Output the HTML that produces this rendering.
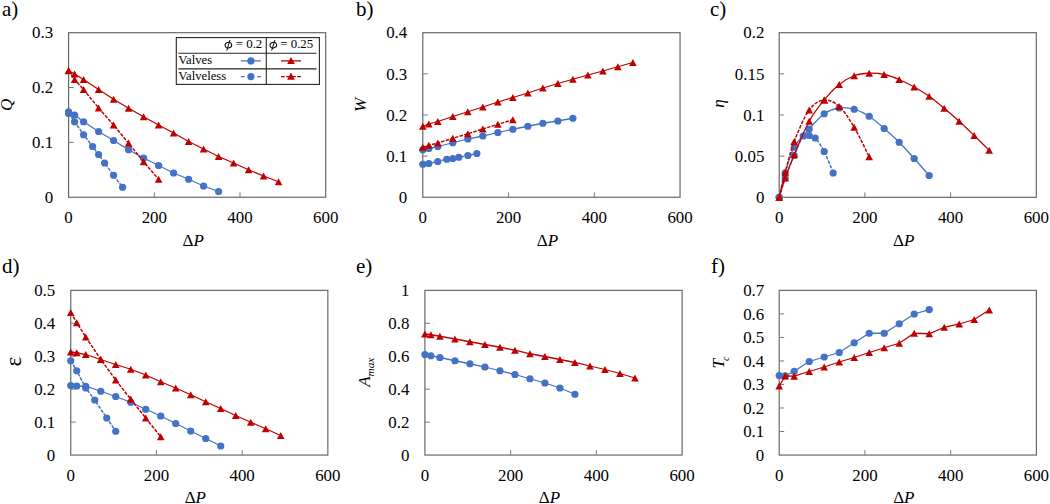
<!DOCTYPE html>
<html lang="en">
<head>
<meta charset="utf-8">
<title>Figure</title>
<style>
html,body{margin:0;padding:0;background:#fff;}
body{width:1050px;height:504px;overflow:hidden;font-family:"Liberation Serif",serif;}
svg{display:block;font-family:"Liberation Serif",serif;}
</style>
</head>
<body>
<svg width="1050" height="504" viewBox="0 0 1050 504">
<rect width="1050" height="504" fill="#ffffff"/>
<g id="panel-a">
<rect x="68.6" y="32.7" width="257.1" height="164.55" fill="#fff" stroke="#626262" stroke-width="1.15"/>
<path d="M154.3 197.25 V192.25 M240 197.25 V192.25 M68.6 142.4 H73.6 M68.6 87.55 H73.6" stroke="#7a7a7a" stroke-width="1" fill="none"/>
<g font-size="16.9" fill="#000000">
<text x="68.6" y="223" text-anchor="middle">0</text>
<text x="154.3" y="223" text-anchor="middle">200</text>
<text x="240" y="223" text-anchor="middle">400</text>
<text x="325.7" y="223" text-anchor="middle">600</text>
<text x="53.1" y="202.95" text-anchor="end">0</text>
<text x="53.1" y="148.1" text-anchor="end">0.1</text>
<text x="53.1" y="93.25" text-anchor="end">0.2</text>
<text x="53.1" y="38.4" text-anchor="end">0.3</text>
</g>
<text x="193.15" y="246" text-anchor="middle" font-size="17" fill="#000000">Δ<tspan font-style="italic">P</tspan></text>
<text transform="translate(12 104.97) rotate(-90)" text-anchor="middle" font-size="17" font-style="italic" fill="#000000">Q</text>
<text x="2" y="16" font-size="21" fill="#000000">a)</text>
<path d="M68.6 111.75 L74.6 115 L83.6 121.75 L98.59 131.5 L113.59 140.5 L128.59 149.75 L143.59 158 L158.59 165.5 L173.58 173 L188.58 179.25 L203.58 186 L218.58 191.5" fill="none" stroke="#4472C4" stroke-width="1.28"/>
<g fill="#4472C4">
<circle cx="68.6" cy="111.75" r="3.62"/>
<circle cx="74.6" cy="115" r="3.62"/>
<circle cx="83.6" cy="121.75" r="3.62"/>
<circle cx="98.59" cy="131.5" r="3.62"/>
<circle cx="113.59" cy="140.5" r="3.62"/>
<circle cx="128.59" cy="149.75" r="3.62"/>
<circle cx="143.59" cy="158" r="3.62"/>
<circle cx="158.59" cy="165.5" r="3.62"/>
<circle cx="173.58" cy="173" r="3.62"/>
<circle cx="188.58" cy="179.25" r="3.62"/>
<circle cx="203.58" cy="186" r="3.62"/>
<circle cx="218.58" cy="191.5" r="3.62"/>
</g>
<path d="M68.6 113.5 L74.6 121.75 L83.6 134.75 L92.6 146.5 L98.59 154.5 L104.59 163 L113.59 175.25 L122.59 187.25" fill="none" stroke="#4472C4" stroke-width="1.5" stroke-dasharray="3.5 1.3"/>
<g fill="#4472C4">
<circle cx="68.6" cy="113.5" r="3.62"/>
<circle cx="74.6" cy="121.75" r="3.62"/>
<circle cx="83.6" cy="134.75" r="3.62"/>
<circle cx="92.6" cy="146.5" r="3.62"/>
<circle cx="98.59" cy="154.5" r="3.62"/>
<circle cx="104.59" cy="163" r="3.62"/>
<circle cx="113.59" cy="175.25" r="3.62"/>
<circle cx="122.59" cy="187.25" r="3.62"/>
</g>
<path d="M68.6 70.5 L74.6 74 L83.6 79.5 L98.59 89.5 L113.59 99.25 L128.59 108.25 L143.59 116.75 L158.59 125 L173.58 133 L188.58 141.5 L203.58 149 L218.58 156.5 L233.57 163 L248.57 169.75 L263.57 176 L278.57 181.75" fill="none" stroke="#C00000" stroke-width="1.28"/>
<g fill="#C00000">
<path d="M68.6 66.92 L72.42 74.08 L64.77 74.08Z"/>
<path d="M74.6 70.42 L78.42 77.58 L70.77 77.58Z"/>
<path d="M83.6 75.92 L87.42 83.08 L79.77 83.08Z"/>
<path d="M98.59 85.92 L102.42 93.08 L94.77 93.08Z"/>
<path d="M113.59 95.67 L117.42 102.83 L109.77 102.83Z"/>
<path d="M128.59 104.67 L132.41 111.83 L124.77 111.83Z"/>
<path d="M143.59 113.17 L147.41 120.33 L139.76 120.33Z"/>
<path d="M158.59 121.42 L162.41 128.57 L154.76 128.57Z"/>
<path d="M173.58 129.43 L177.41 136.57 L169.76 136.57Z"/>
<path d="M188.58 137.93 L192.41 145.07 L184.76 145.07Z"/>
<path d="M203.58 145.43 L207.4 152.57 L199.75 152.57Z"/>
<path d="M218.58 152.93 L222.4 160.07 L214.75 160.07Z"/>
<path d="M233.57 159.43 L237.4 166.57 L229.75 166.57Z"/>
<path d="M248.57 166.18 L252.4 173.32 L244.75 173.32Z"/>
<path d="M263.57 172.43 L267.39 179.57 L259.74 179.57Z"/>
<path d="M278.57 178.18 L282.39 185.32 L274.74 185.32Z"/>
</g>
<path d="M68.6 70.75 L74.6 79.5 L83.6 89.5 L98.59 108 L113.59 125 L128.59 143.2 L143.59 161.75 L158.59 179.25" fill="none" stroke="#C00000" stroke-width="1.5" stroke-dasharray="3.5 1.3"/>
<g fill="#C00000">
<path d="M68.6 67.17 L72.42 74.33 L64.77 74.33Z"/>
<path d="M74.6 75.92 L78.42 83.08 L70.77 83.08Z"/>
<path d="M83.6 85.92 L87.42 93.08 L79.77 93.08Z"/>
<path d="M98.59 104.42 L102.42 111.58 L94.77 111.58Z"/>
<path d="M113.59 121.42 L117.42 128.57 L109.77 128.57Z"/>
<path d="M128.59 139.62 L132.41 146.77 L124.77 146.77Z"/>
<path d="M143.59 158.18 L147.41 165.32 L139.76 165.32Z"/>
<path d="M158.59 175.68 L162.41 182.82 L154.76 182.82Z"/>
</g>
</g>
<g id="panel-b">
<rect x="422.8" y="32.7" width="257.25" height="164.55" fill="#fff" stroke="#626262" stroke-width="1.15"/>
<path d="M508.55 197.25 V192.25 M594.3 197.25 V192.25 M422.8 156.11 H427.8 M422.8 114.97 H427.8 M422.8 73.84 H427.8" stroke="#7a7a7a" stroke-width="1" fill="none"/>
<g font-size="16.9" fill="#000000">
<text x="422.8" y="223" text-anchor="middle">0</text>
<text x="508.55" y="223" text-anchor="middle">200</text>
<text x="594.3" y="223" text-anchor="middle">400</text>
<text x="680.05" y="223" text-anchor="middle">600</text>
<text x="407.3" y="202.95" text-anchor="end">0</text>
<text x="407.3" y="161.81" text-anchor="end">0.1</text>
<text x="407.3" y="120.67" text-anchor="end">0.2</text>
<text x="407.3" y="79.54" text-anchor="end">0.3</text>
<text x="407.3" y="38.4" text-anchor="end">0.4</text>
</g>
<text x="547.42" y="246" text-anchor="middle" font-size="17" fill="#000000">Δ<tspan font-style="italic">P</tspan></text>
<text transform="translate(366.2 104.97) rotate(-90)" text-anchor="middle" font-size="17" font-style="italic" fill="#000000">W</text>
<text x="356" y="16" font-size="21" fill="#000000">b)</text>
<path d="M422.8 149.75 L428.8 148.5 L437.81 146.5 L452.81 142.75 L467.82 139 L482.82 136 L497.83 132.5 L512.84 129.25 L527.84 126.25 L542.85 123.25 L557.86 121 L572.86 118.25" fill="none" stroke="#4472C4" stroke-width="1.28"/>
<g fill="#4472C4">
<circle cx="422.8" cy="149.75" r="3.62"/>
<circle cx="428.8" cy="148.5" r="3.62"/>
<circle cx="437.81" cy="146.5" r="3.62"/>
<circle cx="452.81" cy="142.75" r="3.62"/>
<circle cx="467.82" cy="139" r="3.62"/>
<circle cx="482.82" cy="136" r="3.62"/>
<circle cx="497.83" cy="132.5" r="3.62"/>
<circle cx="512.84" cy="129.25" r="3.62"/>
<circle cx="527.84" cy="126.25" r="3.62"/>
<circle cx="542.85" cy="123.25" r="3.62"/>
<circle cx="557.86" cy="121" r="3.62"/>
<circle cx="572.86" cy="118.25" r="3.62"/>
</g>
<path d="M422.8 164.25 L428.8 163.5 L437.81 161.5 L446.81 159.25 L452.81 158.5 L458.81 157.25 L467.82 155.5 L476.82 153.5" fill="none" stroke="#4472C4" stroke-width="1.5" stroke-dasharray="3.5 1.3"/>
<g fill="#4472C4">
<circle cx="422.8" cy="164.25" r="3.62"/>
<circle cx="428.8" cy="163.5" r="3.62"/>
<circle cx="437.81" cy="161.5" r="3.62"/>
<circle cx="446.81" cy="159.25" r="3.62"/>
<circle cx="452.81" cy="158.5" r="3.62"/>
<circle cx="458.81" cy="157.25" r="3.62"/>
<circle cx="467.82" cy="155.5" r="3.62"/>
<circle cx="476.82" cy="153.5" r="3.62"/>
</g>
<path d="M422.8 126.25 L428.8 124 L437.81 121.5 L452.81 116.5 L467.82 111.75 L482.82 107 L497.83 102 L512.84 97.5 L527.84 93 L542.85 88 L557.86 83.5 L572.86 79.25 L587.87 75 L602.88 71 L617.88 66.75 L632.89 62.5" fill="none" stroke="#C00000" stroke-width="1.28"/>
<g fill="#C00000">
<path d="M422.8 122.67 L426.62 129.82 L418.98 129.82Z"/>
<path d="M428.8 120.42 L432.63 127.58 L424.98 127.58Z"/>
<path d="M437.81 117.92 L441.63 125.08 L433.98 125.08Z"/>
<path d="M452.81 112.92 L456.64 120.08 L448.99 120.08Z"/>
<path d="M467.82 108.17 L471.64 115.33 L463.99 115.33Z"/>
<path d="M482.82 103.42 L486.65 110.58 L479 110.58Z"/>
<path d="M497.83 98.42 L501.66 105.58 L494.01 105.58Z"/>
<path d="M512.84 93.92 L516.66 101.08 L509.01 101.08Z"/>
<path d="M527.84 89.42 L531.67 96.58 L524.02 96.58Z"/>
<path d="M542.85 84.42 L546.68 91.58 L539.02 91.58Z"/>
<path d="M557.86 79.92 L561.68 87.08 L554.03 87.08Z"/>
<path d="M572.86 75.67 L576.69 82.83 L569.04 82.83Z"/>
<path d="M587.87 71.42 L591.69 78.58 L584.04 78.58Z"/>
<path d="M602.88 67.42 L606.7 74.58 L599.05 74.58Z"/>
<path d="M617.88 63.17 L621.71 70.33 L614.06 70.33Z"/>
<path d="M632.89 58.92 L636.71 66.08 L629.06 66.08Z"/>
</g>
<path d="M422.8 147.25 L428.8 145.25 L437.81 143 L452.81 138.25 L467.82 133.75 L482.82 129 L497.83 124.25 L512.84 119.75" fill="none" stroke="#C00000" stroke-width="1.5" stroke-dasharray="3.5 1.3"/>
<g fill="#C00000">
<path d="M422.8 143.68 L426.62 150.82 L418.98 150.82Z"/>
<path d="M428.8 141.68 L432.63 148.82 L424.98 148.82Z"/>
<path d="M437.81 139.43 L441.63 146.57 L433.98 146.57Z"/>
<path d="M452.81 134.68 L456.64 141.82 L448.99 141.82Z"/>
<path d="M467.82 130.18 L471.64 137.32 L463.99 137.32Z"/>
<path d="M482.82 125.42 L486.65 132.57 L479 132.57Z"/>
<path d="M497.83 120.67 L501.66 127.83 L494.01 127.83Z"/>
<path d="M512.84 116.17 L516.66 123.33 L509.01 123.33Z"/>
</g>
</g>
<g id="panel-c">
<rect x="779.2" y="32.7" width="257.1" height="164.6" fill="#fff" stroke="#626262" stroke-width="1.15"/>
<path d="M864.9 197.3 V192.3 M950.6 197.3 V192.3 M779.2 156.15 H784.2 M779.2 115 H784.2 M779.2 73.85 H784.2" stroke="#7a7a7a" stroke-width="1" fill="none"/>
<g font-size="16.9" fill="#000000">
<text x="779.2" y="223" text-anchor="middle">0</text>
<text x="864.9" y="223" text-anchor="middle">200</text>
<text x="950.6" y="223" text-anchor="middle">400</text>
<text x="1036.3" y="223" text-anchor="middle">600</text>
<text x="764.4" y="203" text-anchor="end">0</text>
<text x="764.4" y="161.85" text-anchor="end">0.05</text>
<text x="764.4" y="120.7" text-anchor="end">0.1</text>
<text x="764.4" y="79.55" text-anchor="end">0.15</text>
<text x="764.4" y="38.4" text-anchor="end">0.2</text>
</g>
<text x="903.75" y="246" text-anchor="middle" font-size="17" fill="#000000">Δ<tspan font-style="italic">P</tspan></text>
<text transform="translate(724.2 103.5) rotate(-90)" text-anchor="middle" font-size="17" font-style="italic" fill="#000000">η</text>
<text x="710" y="16" font-size="21" fill="#000000">c)</text>
<path d="M779.2 197.25 C780.2 193.17 782.7 181.08 785.2 172.75 C787.7 164.42 790.2 154.54 794.2 147.25 C798.2 139.96 804.2 134.58 809.2 129 C814.19 123.42 819.19 117.25 824.19 113.75 C829.19 110.25 834.19 108.75 839.19 108 C844.19 107.25 849.19 107.88 854.19 109.25 C859.19 110.62 864.19 113.04 869.18 116.25 C874.18 119.46 879.18 124.17 884.18 128.5 C889.18 132.83 894.18 137.25 899.18 142.25 C904.18 147.25 909.18 152.96 914.18 158.5 C919.18 164.04 926.68 172.67 929.17 175.5" fill="none" stroke="#4472C4" stroke-width="1.28"/>
<g fill="#4472C4">
<circle cx="779.2" cy="197.25" r="3.62"/>
<circle cx="785.2" cy="172.75" r="3.62"/>
<circle cx="794.2" cy="147.25" r="3.62"/>
<circle cx="809.2" cy="129" r="3.62"/>
<circle cx="824.19" cy="113.75" r="3.62"/>
<circle cx="839.19" cy="108" r="3.62"/>
<circle cx="854.19" cy="109.25" r="3.62"/>
<circle cx="869.18" cy="116.25" r="3.62"/>
<circle cx="884.18" cy="128.5" r="3.62"/>
<circle cx="899.18" cy="142.25" r="3.62"/>
<circle cx="914.18" cy="158.5" r="3.62"/>
<circle cx="929.17" cy="175.5" r="3.62"/>
</g>
<path d="M779.2 197.25 C780.2 194.04 782.7 184.96 785.2 178 C787.7 171.04 791.2 162.5 794.2 155.5 C797.2 148.5 800.7 139.33 803.2 136 C805.7 132.67 807.2 135.17 809.2 135.5 C811.19 135.83 812.69 135.33 815.19 138 C817.69 140.67 821.19 145.67 824.19 151.5 C827.19 157.33 831.69 169.42 833.19 173" fill="none" stroke="#4472C4" stroke-width="1.5" stroke-dasharray="3.5 1.3"/>
<g fill="#4472C4">
<circle cx="779.2" cy="197.25" r="3.62"/>
<circle cx="785.2" cy="178" r="3.62"/>
<circle cx="794.2" cy="155.5" r="3.62"/>
<circle cx="803.2" cy="136" r="3.62"/>
<circle cx="809.2" cy="135.5" r="3.62"/>
<circle cx="815.19" cy="138" r="3.62"/>
<circle cx="824.19" cy="151.5" r="3.62"/>
<circle cx="833.19" cy="173" r="3.62"/>
</g>
<path d="M779.2 197.25 C780.2 194.04 782.7 185.08 785.2 178 C787.7 170.92 790.2 164.21 794.2 154.75 C798.2 145.29 804.2 130.38 809.2 121.25 C814.19 112.12 819.19 106.12 824.19 100 C829.19 93.88 834.19 88.54 839.19 84.5 C844.19 80.46 849.19 77.62 854.19 75.75 C859.19 73.88 864.19 73.46 869.18 73.25 C874.18 73.04 879.18 73.46 884.18 74.5 C889.18 75.54 894.18 77.42 899.18 79.5 C904.18 81.58 909.18 84.21 914.18 87 C919.18 89.79 924.18 92.71 929.17 96.25 C934.17 99.79 939.17 104.08 944.17 108.25 C949.17 112.42 954.17 116.71 959.17 121.25 C964.17 125.79 969.17 130.67 974.17 135.5 C979.17 140.33 986.67 147.79 989.16 150.25" fill="none" stroke="#C00000" stroke-width="1.28"/>
<g fill="#C00000">
<path d="M779.2 193.68 L783.03 200.82 L775.38 200.82Z"/>
<path d="M785.2 174.43 L789.02 181.57 L781.37 181.57Z"/>
<path d="M794.2 151.18 L798.02 158.32 L790.37 158.32Z"/>
<path d="M809.2 117.67 L813.02 124.83 L805.37 124.83Z"/>
<path d="M824.19 96.42 L828.02 103.58 L820.37 103.58Z"/>
<path d="M839.19 80.92 L843.02 88.08 L835.37 88.08Z"/>
<path d="M854.19 72.17 L858.01 79.33 L850.36 79.33Z"/>
<path d="M869.18 69.67 L873.01 76.83 L865.36 76.83Z"/>
<path d="M884.18 70.92 L888.01 78.08 L880.36 78.08Z"/>
<path d="M899.18 75.92 L903 83.08 L895.35 83.08Z"/>
<path d="M914.18 83.42 L918 90.58 L910.35 90.58Z"/>
<path d="M929.17 92.67 L933 99.83 L925.35 99.83Z"/>
<path d="M944.17 104.67 L948 111.83 L940.35 111.83Z"/>
<path d="M959.17 117.67 L963 124.83 L955.34 124.83Z"/>
<path d="M974.17 131.93 L977.99 139.07 L970.34 139.07Z"/>
<path d="M989.16 146.68 L992.99 153.82 L985.34 153.82Z"/>
</g>
<path d="M779.2 197.25 C780.2 193.08 782.7 181.54 785.2 172.25 C787.7 162.96 790.2 151.88 794.2 141.5 C798.2 131.12 804.2 116.92 809.2 110 C814.19 103.08 819.19 100.58 824.19 100 C829.19 99.42 834.19 101.96 839.19 106.5 C844.19 111.04 849.19 118.88 854.19 127.25 C859.19 135.62 866.69 151.83 869.18 156.75" fill="none" stroke="#C00000" stroke-width="1.5" stroke-dasharray="3.5 1.3"/>
<g fill="#C00000">
<path d="M779.2 193.68 L783.03 200.82 L775.38 200.82Z"/>
<path d="M785.2 168.68 L789.02 175.82 L781.37 175.82Z"/>
<path d="M794.2 137.93 L798.02 145.07 L790.37 145.07Z"/>
<path d="M809.2 106.42 L813.02 113.58 L805.37 113.58Z"/>
<path d="M824.19 96.42 L828.02 103.58 L820.37 103.58Z"/>
<path d="M839.19 102.92 L843.02 110.08 L835.37 110.08Z"/>
<path d="M854.19 123.67 L858.01 130.82 L850.36 130.82Z"/>
<path d="M869.18 153.18 L873.01 160.32 L865.36 160.32Z"/>
</g>
</g>
<g id="panel-d">
<rect x="70.75" y="290.35" width="257.1" height="164.7" fill="#fff" stroke="#626262" stroke-width="1.15"/>
<path d="M156.45 455.05 V450.05 M242.15 455.05 V450.05 M70.75 422.11 H75.75 M70.75 389.17 H75.75 M70.75 356.23 H75.75 M70.75 323.29 H75.75" stroke="#7a7a7a" stroke-width="1" fill="none"/>
<g font-size="16.9" fill="#000000">
<text x="70.75" y="481" text-anchor="middle">0</text>
<text x="156.45" y="481" text-anchor="middle">200</text>
<text x="242.15" y="481" text-anchor="middle">400</text>
<text x="327.85" y="481" text-anchor="middle">600</text>
<text x="55.25" y="460.75" text-anchor="end">0</text>
<text x="55.25" y="427.81" text-anchor="end">0.1</text>
<text x="55.25" y="394.87" text-anchor="end">0.2</text>
<text x="55.25" y="361.93" text-anchor="end">0.3</text>
<text x="55.25" y="328.99" text-anchor="end">0.4</text>
<text x="55.25" y="296.05" text-anchor="end">0.5</text>
</g>
<text x="195.3" y="503" text-anchor="middle" font-size="17" fill="#000000">Δ<tspan font-style="italic">P</tspan></text>
<text transform="translate(21.3 361.7) rotate(-90)" text-anchor="middle" font-size="23.0" font-style="normal" fill="#000000">ε</text>
<text x="2" y="273" font-size="21" fill="#000000">d)</text>
<path d="M70.75 385.5 L76.75 386 L85.75 386.25 L100.75 391.25 L115.74 396.5 L130.74 402.25 L145.74 409.25 L160.74 416 L175.73 423.5 L190.73 431 L205.73 438.5 L220.73 446" fill="none" stroke="#4472C4" stroke-width="1.28"/>
<g fill="#4472C4">
<circle cx="70.75" cy="385.5" r="3.62"/>
<circle cx="76.75" cy="386" r="3.62"/>
<circle cx="85.75" cy="386.25" r="3.62"/>
<circle cx="100.75" cy="391.25" r="3.62"/>
<circle cx="115.74" cy="396.5" r="3.62"/>
<circle cx="130.74" cy="402.25" r="3.62"/>
<circle cx="145.74" cy="409.25" r="3.62"/>
<circle cx="160.74" cy="416" r="3.62"/>
<circle cx="175.73" cy="423.5" r="3.62"/>
<circle cx="190.73" cy="431" r="3.62"/>
<circle cx="205.73" cy="438.5" r="3.62"/>
<circle cx="220.73" cy="446" r="3.62"/>
</g>
<path d="M70.75 360.75 L76.75 370.75 L85.75 388 L94.75 400 L106.74 418 L115.74 431.25" fill="none" stroke="#4472C4" stroke-width="1.5" stroke-dasharray="3.5 1.3"/>
<g fill="#4472C4">
<circle cx="70.75" cy="360.75" r="3.62"/>
<circle cx="76.75" cy="370.75" r="3.62"/>
<circle cx="85.75" cy="388" r="3.62"/>
<circle cx="94.75" cy="400" r="3.62"/>
<circle cx="106.74" cy="418" r="3.62"/>
<circle cx="115.74" cy="431.25" r="3.62"/>
</g>
<path d="M70.75 352 L76.75 352.75 L85.75 354.5 L100.75 359.5 L115.74 364.5 L130.74 369.25 L145.74 375 L160.74 381.75 L175.73 388 L190.73 394.75 L205.73 401.75 L220.73 408.5 L235.72 415.5 L250.72 422.25 L265.72 428.75 L280.72 435.5" fill="none" stroke="#C00000" stroke-width="1.28"/>
<g fill="#C00000">
<path d="M70.75 348.43 L74.58 355.57 L66.92 355.57Z"/>
<path d="M76.75 349.18 L80.57 356.32 L72.92 356.32Z"/>
<path d="M85.75 350.93 L89.57 358.07 L81.92 358.07Z"/>
<path d="M100.75 355.93 L104.57 363.07 L96.92 363.07Z"/>
<path d="M115.74 360.93 L119.57 368.07 L111.92 368.07Z"/>
<path d="M130.74 365.68 L134.56 372.82 L126.92 372.82Z"/>
<path d="M145.74 371.43 L149.56 378.57 L141.91 378.57Z"/>
<path d="M160.74 378.18 L164.56 385.32 L156.91 385.32Z"/>
<path d="M175.73 384.43 L179.56 391.57 L171.91 391.57Z"/>
<path d="M190.73 391.18 L194.56 398.32 L186.91 398.32Z"/>
<path d="M205.73 398.18 L209.55 405.32 L201.9 405.32Z"/>
<path d="M220.73 404.93 L224.55 412.07 L216.9 412.07Z"/>
<path d="M235.72 411.93 L239.55 419.07 L231.9 419.07Z"/>
<path d="M250.72 418.68 L254.55 425.82 L246.9 425.82Z"/>
<path d="M265.72 425.18 L269.54 432.32 L261.89 432.32Z"/>
<path d="M280.72 431.93 L284.54 439.07 L276.89 439.07Z"/>
</g>
<path d="M70.75 312.5 L76.75 322.75 L85.75 337 L100.75 359.5 L115.74 380 L130.74 399.2 L145.74 418 L160.74 436.75" fill="none" stroke="#C00000" stroke-width="1.5" stroke-dasharray="3.5 1.3"/>
<g fill="#C00000">
<path d="M70.75 308.93 L74.58 316.07 L66.92 316.07Z"/>
<path d="M76.75 319.18 L80.57 326.32 L72.92 326.32Z"/>
<path d="M85.75 333.43 L89.57 340.57 L81.92 340.57Z"/>
<path d="M100.75 355.93 L104.57 363.07 L96.92 363.07Z"/>
<path d="M115.74 376.43 L119.57 383.57 L111.92 383.57Z"/>
<path d="M130.74 395.62 L134.56 402.77 L126.92 402.77Z"/>
<path d="M145.74 414.43 L149.56 421.57 L141.91 421.57Z"/>
<path d="M160.74 433.18 L164.56 440.32 L156.91 440.32Z"/>
</g>
</g>
<g id="panel-e">
<rect x="424.9" y="290.35" width="257.2" height="164.7" fill="#fff" stroke="#626262" stroke-width="1.15"/>
<path d="M510.63 455.05 V450.05 M596.37 455.05 V450.05 M424.9 422.11 H429.9 M424.9 389.17 H429.9 M424.9 356.23 H429.9 M424.9 323.29 H429.9" stroke="#7a7a7a" stroke-width="1" fill="none"/>
<g font-size="16.9" fill="#000000">
<text x="424.9" y="481" text-anchor="middle">0</text>
<text x="510.63" y="481" text-anchor="middle">200</text>
<text x="596.37" y="481" text-anchor="middle">400</text>
<text x="682.1" y="481" text-anchor="middle">600</text>
<text x="409.4" y="460.75" text-anchor="end">0</text>
<text x="409.4" y="427.81" text-anchor="end">0.2</text>
<text x="409.4" y="394.87" text-anchor="end">0.4</text>
<text x="409.4" y="361.93" text-anchor="end">0.6</text>
<text x="409.4" y="328.99" text-anchor="end">0.8</text>
<text x="409.4" y="296.05" text-anchor="end">1</text>
</g>
<text x="549.5" y="503" text-anchor="middle" font-size="17" fill="#000000">Δ<tspan font-style="italic">P</tspan></text>
<text transform="translate(370.2 372.3) rotate(-90)" text-anchor="middle" font-size="17" font-style="italic" fill="#000000">A<tspan font-size="11.2" dy="3.6" dx="0">max</tspan></text>
<text x="356" y="273" font-size="21" fill="#000000">e)</text>
<path d="M424.9 354.5 L430.9 355.75 L439.9 357.5 L454.91 360.75 L469.91 363.75 L484.91 367 L499.92 370.75 L514.92 374.5 L529.92 378.75 L544.93 383 L559.93 388 L574.93 394.25" fill="none" stroke="#4472C4" stroke-width="1.28"/>
<g fill="#4472C4">
<circle cx="424.9" cy="354.5" r="3.62"/>
<circle cx="430.9" cy="355.75" r="3.62"/>
<circle cx="439.9" cy="357.5" r="3.62"/>
<circle cx="454.91" cy="360.75" r="3.62"/>
<circle cx="469.91" cy="363.75" r="3.62"/>
<circle cx="484.91" cy="367" r="3.62"/>
<circle cx="499.92" cy="370.75" r="3.62"/>
<circle cx="514.92" cy="374.5" r="3.62"/>
<circle cx="529.92" cy="378.75" r="3.62"/>
<circle cx="544.93" cy="383" r="3.62"/>
<circle cx="559.93" cy="388" r="3.62"/>
<circle cx="574.93" cy="394.25" r="3.62"/>
</g>
<path d="M424.9 334 L430.9 334.75 L439.9 336.25 L454.91 339 L469.91 341.75 L484.91 344.5 L499.92 347.25 L514.92 350.25 L529.92 353.75 L544.93 356.5 L559.93 359.5 L574.93 362.5 L589.94 366 L604.94 369.5 L619.94 373.5 L634.95 378" fill="none" stroke="#C00000" stroke-width="1.28"/>
<g fill="#C00000">
<path d="M424.9 330.43 L428.72 337.57 L421.07 337.57Z"/>
<path d="M430.9 331.18 L434.73 338.32 L427.08 338.32Z"/>
<path d="M439.9 332.68 L443.73 339.82 L436.08 339.82Z"/>
<path d="M454.91 335.43 L458.73 342.57 L451.08 342.57Z"/>
<path d="M469.91 338.18 L473.73 345.32 L466.08 345.32Z"/>
<path d="M484.91 340.93 L488.74 348.07 L481.09 348.07Z"/>
<path d="M499.92 343.68 L503.74 350.82 L496.09 350.82Z"/>
<path d="M514.92 346.68 L518.75 353.82 L511.09 353.82Z"/>
<path d="M529.92 350.18 L533.75 357.32 L526.1 357.32Z"/>
<path d="M544.93 352.93 L548.75 360.07 L541.1 360.07Z"/>
<path d="M559.93 355.93 L563.76 363.07 L556.11 363.07Z"/>
<path d="M574.93 358.93 L578.76 366.07 L571.11 366.07Z"/>
<path d="M589.94 362.43 L593.76 369.57 L586.11 369.57Z"/>
<path d="M604.94 365.93 L608.77 373.07 L601.12 373.07Z"/>
<path d="M619.94 369.93 L623.77 377.07 L616.12 377.07Z"/>
<path d="M634.95 374.43 L638.77 381.57 L631.12 381.57Z"/>
</g>
</g>
<g id="panel-f">
<rect x="779.2" y="290.35" width="257.2" height="164.7" fill="#fff" stroke="#626262" stroke-width="1.15"/>
<path d="M864.93 455.05 V450.05 M950.67 455.05 V450.05 M779.2 431.52 H784.2 M779.2 407.99 H784.2 M779.2 384.46 H784.2 M779.2 360.94 H784.2 M779.2 337.41 H784.2 M779.2 313.88 H784.2" stroke="#7a7a7a" stroke-width="1" fill="none"/>
<g font-size="16.9" fill="#000000">
<text x="779.2" y="481" text-anchor="middle">0</text>
<text x="864.93" y="481" text-anchor="middle">200</text>
<text x="950.67" y="481" text-anchor="middle">400</text>
<text x="1036.4" y="481" text-anchor="middle">600</text>
<text x="764.3" y="460.75" text-anchor="end">0</text>
<text x="764.3" y="437.22" text-anchor="end">0.1</text>
<text x="764.3" y="413.69" text-anchor="end">0.2</text>
<text x="764.3" y="390.16" text-anchor="end">0.3</text>
<text x="764.3" y="366.64" text-anchor="end">0.4</text>
<text x="764.3" y="343.11" text-anchor="end">0.5</text>
<text x="764.3" y="319.58" text-anchor="end">0.6</text>
<text x="764.3" y="296.05" text-anchor="end">0.7</text>
</g>
<text x="903.8" y="503" text-anchor="middle" font-size="17" fill="#000000">Δ<tspan font-style="italic">P</tspan></text>
<text transform="translate(724.4 362.5) rotate(-90)" text-anchor="middle" font-size="17" font-style="italic" fill="#000000">T<tspan font-size="10" dy="4.3" dx="-2">c</tspan></text>
<text x="711" y="273" font-size="21" fill="#000000">f)</text>
<path d="M779.2 375.5 L785.2 375.8 L794.2 371.25 L809.21 361.5 L824.21 357 L839.21 352.5 L854.22 342.75 L869.22 333.25 L884.22 333.25 L899.23 323.75 L914.23 314 L929.23 309.6" fill="none" stroke="#4472C4" stroke-width="1.28"/>
<g fill="#4472C4">
<circle cx="779.2" cy="375.5" r="3.62"/>
<circle cx="785.2" cy="375.8" r="3.62"/>
<circle cx="794.2" cy="371.25" r="3.62"/>
<circle cx="809.21" cy="361.5" r="3.62"/>
<circle cx="824.21" cy="357" r="3.62"/>
<circle cx="839.21" cy="352.5" r="3.62"/>
<circle cx="854.22" cy="342.75" r="3.62"/>
<circle cx="869.22" cy="333.25" r="3.62"/>
<circle cx="884.22" cy="333.25" r="3.62"/>
<circle cx="899.23" cy="323.75" r="3.62"/>
<circle cx="914.23" cy="314" r="3.62"/>
<circle cx="929.23" cy="309.6" r="3.62"/>
</g>
<path d="M779.2 386 L785.2 375.9 L794.2 376.1 L809.21 371.5 L824.21 367 L839.21 362 L854.22 357.5 L869.22 352.5 L884.22 347.75 L899.23 343.25 L914.23 333.25 L929.23 333.75 L944.24 327.25 L959.24 324 L974.24 319.5 L989.25 310" fill="none" stroke="#C00000" stroke-width="1.28"/>
<g fill="#C00000">
<path d="M779.2 382.43 L783.03 389.57 L775.38 389.57Z"/>
<path d="M785.2 372.32 L789.03 379.47 L781.38 379.47Z"/>
<path d="M794.2 372.53 L798.03 379.68 L790.38 379.68Z"/>
<path d="M809.21 367.93 L813.03 375.07 L805.38 375.07Z"/>
<path d="M824.21 363.43 L828.04 370.57 L820.38 370.57Z"/>
<path d="M839.21 358.43 L843.04 365.57 L835.39 365.57Z"/>
<path d="M854.22 353.93 L858.04 361.07 L850.39 361.07Z"/>
<path d="M869.22 348.93 L873.05 356.07 L865.39 356.07Z"/>
<path d="M884.22 344.18 L888.05 351.32 L880.4 351.32Z"/>
<path d="M899.23 339.68 L903.05 346.82 L895.4 346.82Z"/>
<path d="M914.23 329.68 L918.06 336.82 L910.4 336.82Z"/>
<path d="M929.23 330.18 L933.06 337.32 L925.41 337.32Z"/>
<path d="M944.24 323.68 L948.06 330.82 L940.41 330.82Z"/>
<path d="M959.24 320.43 L963.07 327.57 L955.42 327.57Z"/>
<path d="M974.24 315.93 L978.07 323.07 L970.42 323.07Z"/>
<path d="M989.25 306.43 L993.07 313.57 L985.42 313.57Z"/>
</g>
</g>
<g id="legend">
<rect x="176.3" y="37.6" width="143.1" height="46.8" fill="#fff" stroke="#262626" stroke-width="1.1"/>
<path d="M266.3 37.6 V84.4 M178.3 53.3 H316.6 M178.3 68.9 H316.6" stroke="#262626" stroke-width="1.1" fill="none"/>
<g font-size="12.7" fill="#000000">
<text x="262.3" y="48.4" text-anchor="end" font-size="12.9">= 0.2</text>
<text x="280.2" y="48.4" font-size="12.9">= 0.25</text>
<ellipse cx="228.4" cy="45.2" rx="3.3" ry="2.75" fill="none" stroke="#000" stroke-width="1.05" transform="rotate(-20 228.4 45.2)"/>
<path d="M230 40.0 L226.8 50.6" stroke="#000" stroke-width="0.95" fill="none"/>
<ellipse cx="273.3" cy="45.2" rx="3.3" ry="2.75" fill="none" stroke="#000" stroke-width="1.05" transform="rotate(-20 273.3 45.2)"/>
<path d="M274.9 40.0 L271.7 50.6" stroke="#000" stroke-width="0.95" fill="none"/>
<text x="178.3" y="63.9">Valves</text>
<text x="178.3" y="80">Valveless</text>
</g>
<path d="M240.9 60.9 H260.9" stroke="#4472C4" stroke-width="1.28"/>
<path d="M240.9 76.6 H244.7 M257.1 76.6 H260.9" stroke="#4472C4" stroke-width="1.28"/>
<path d="M281 60.9 H301" stroke="#C00000" stroke-width="1.28"/>
<path d="M281 76.6 H284.8 M286.2 76.6 H295.8 M297.2 76.6 H301" stroke="#C00000" stroke-width="1.28"/>
<g fill="#4472C4"><circle cx="250.9" cy="60.9" r="3.62"/><circle cx="250.9" cy="76.6" r="3.62"/></g>
<g fill="#C00000"><path d="M291 56.92 L294.82 64.08 L287.18 64.08Z"/><path d="M291 72.62 L294.82 79.77 L287.18 79.77Z"/></g>
</g>
</svg>
</body>
</html>
